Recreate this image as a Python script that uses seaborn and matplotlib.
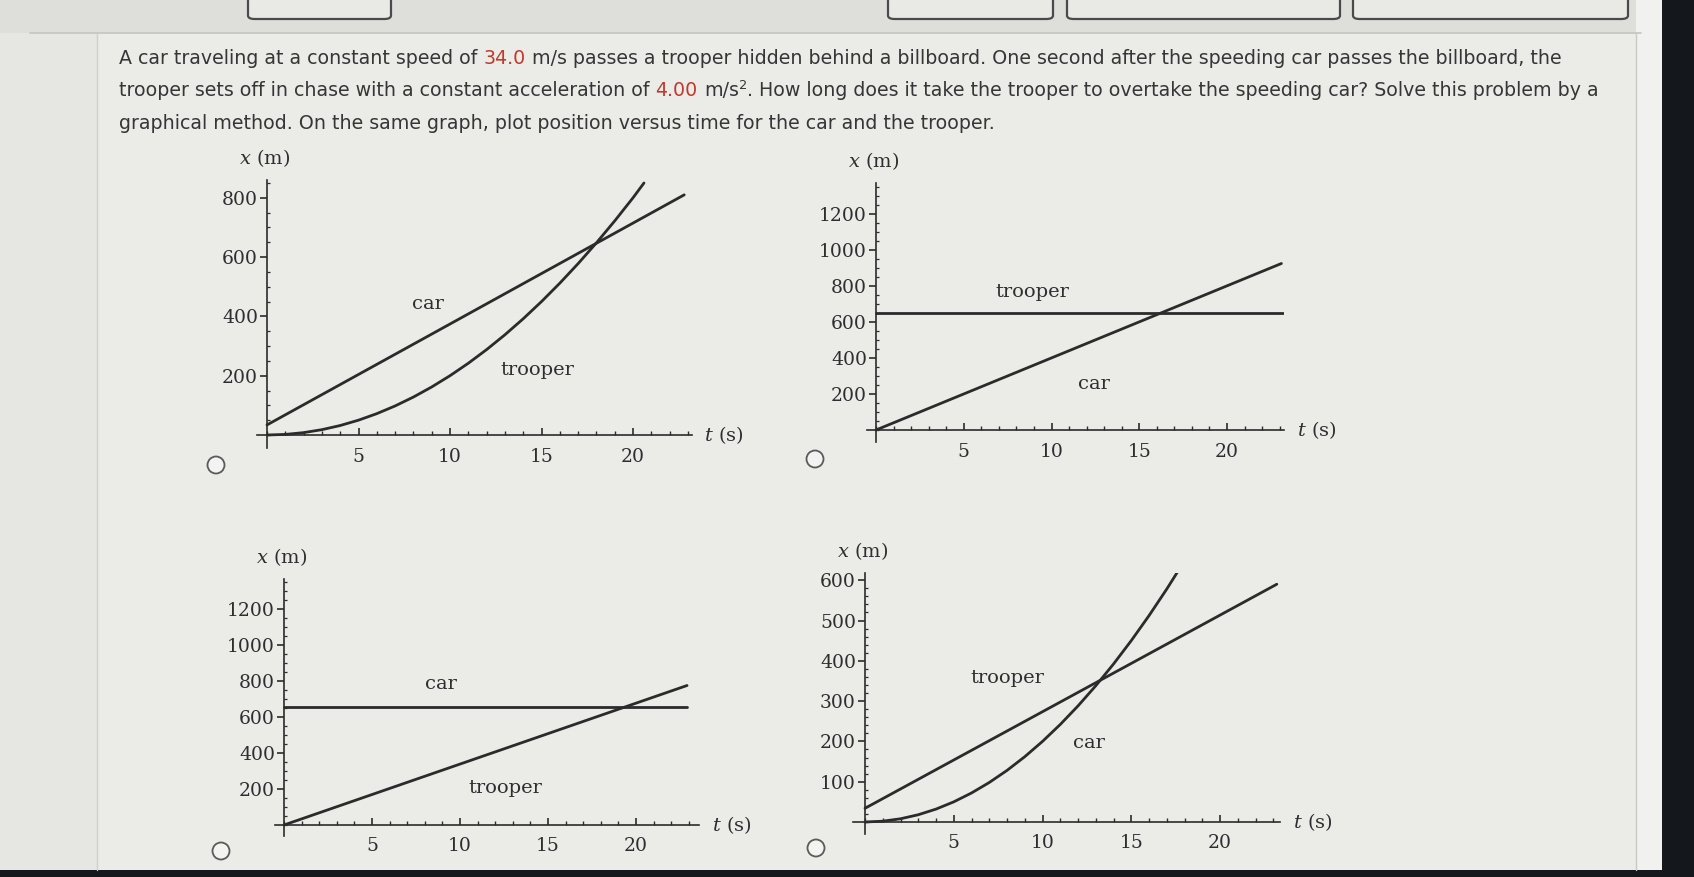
import matplotlib
matplotlib.use('Agg')
import matplotlib.pyplot as plt
from matplotlib.patches import Rectangle, FancyBboxPatch, Ellipse
from matplotlib.ticker import MultipleLocator, FixedLocator
import numpy as np
import seaborn as sns

W, H = 1694, 877

# ---- values ----
# graph A (top left)
car_a_t = [0, 22.8]
car_a_x = [34, 810]
trooper_a_t = [0, 1, 2, 3, 4, 5, 6, 7, 8, 9, 10, 11, 12, 13, 14, 15, 16, 17, 18, 19, 20, 20.6]
trooper_a_x = [0, 2, 8, 18, 32, 50, 72, 98, 128, 162, 200, 242, 288, 338, 392, 450, 512, 578, 648, 722, 800, 850]
yticks_a = [200, 400, 600, 800]

# graph B (top right)
trooper_b_t = [0, 23.2]
trooper_b_x = [650, 650]
car_b_t = [0, 23.1]
car_b_x = [0, 925]
yticks_b = [200, 400, 600, 800, 1000, 1200]

# graph C (bottom left)
car_c_t = [0, 22.9]
car_c_x = [658, 658]
trooper_c_t = [0, 22.9]
trooper_c_x = [0, 775]
yticks_c = [200, 400, 600, 800, 1000, 1200]

# graph D (bottom right)
trooper_d_t = [0, 23.2]
trooper_d_x = [34, 590]
car_d_t = [0, 1, 2, 3, 4, 5, 6, 7, 8, 9, 10, 11, 12, 13, 14, 15, 16, 17, 17.7]
car_d_x = [0, 2, 8, 18, 32, 50, 72, 98, 128, 162, 200, 242, 288, 338, 392, 450, 512, 578, 627]
yticks_d = [100, 200, 300, 400, 500, 600]

xticks_all = [5, 10, 15, 20]

line1 = [("A car traveling at a constant speed of", 'n', False), ("34.0", 'r', True),
         ("m/s passes a trooper hidden behind a billboard. One second after the speeding car passes the billboard, the", 'n', True)]
line2 = [("trooper sets off in chase with a constant acceleration of", 'n', False), ("4.00", 'r', True),
         ("m/s", 'n', True), ("2", 's', False),
         (". How long does it take the trooper to overtake the speeding car? Solve this problem by a", 'n', False)]
line3 = [("graphical method. On the same graph, plot position versus time for the car and the trooper.", 'n', False)]

sns.set_theme(style='white')
plt.rcParams['font.family'] = ['DejaVu Serif']
plt.rcParams['mathtext.fontset'] = 'dejavuserif'

INK = '#2b2b2b'
TXT = '#363636'
RED = '#c0392b'
BG = '#ebebe8'

fig = plt.figure(figsize=(W / 100, H / 100), dpi=100, facecolor=BG)
renderer = fig.canvas.get_renderer()


def fx(x):
    return x / W


def fy(y):
    return 1 - y / H


def add_rect(x0, y0, x1, y1, **kw):
    fig.add_artist(Rectangle((fx(x0), fy(y1)), fx(x1) - fx(x0), fy(y0) - fy(y1),
                             transform=fig.transFigure, **kw))


# page furniture
add_rect(0, 0, W, 33, facecolor='#dededb', edgecolor='none')
add_rect(0, 33, 97, H, facecolor='#e6e6e3', edgecolor='none')
add_rect(1636, 0, 1662, H, facecolor='#f1f1ef', edgecolor='none')
add_rect(1662, 0, W, H, facecolor='#14171b', edgecolor='none')
add_rect(0, 870, W, H, facecolor='#14171b', edgecolor='none')
fig.add_artist(plt.Line2D([fx(30), fx(1641)], [fy(33), fy(33)], color='#c4c4c1', lw=1.2,
                          transform=fig.transFigure))
fig.add_artist(plt.Line2D([fx(97), fx(97)], [fy(33), fy(870)], color='#cfcfcc', lw=1.0,
                          transform=fig.transFigure))
fig.add_artist(plt.Line2D([fx(1636), fx(1636)], [fy(33), fy(870)], color='#c8c8c5', lw=1.0,
                          transform=fig.transFigure))
for bx0, bx1 in [(248, 391), (888, 1053), (1067, 1340), (1353, 1628)]:
    fig.add_artist(FancyBboxPatch((fx(bx0), fy(19)), fx(bx1) - fx(bx0), 0.05,
                                  boxstyle='round,pad=0,rounding_size=0.004',
                                  facecolor='#e9e9e6', edgecolor='#4a4a4a', lw=1.6,
                                  transform=fig.transFigure))


# ---- problem text ----
def text_width(s, size):
    t = fig.text(0, 0, s, fontsize=size, family='DejaVu Sans')
    w = t.get_window_extent(renderer).width
    t.remove()
    return w


def line_width(segs, size):
    sp = text_width("a a", size) - text_width("aa", size)
    w = 0
    for s, kind, gap in segs:
        if gap:
            w += sp
        w += text_width(s, size * (0.68 if kind == 's' else 1))
    return w


fs = 14
fs = fs * 1445 / line_width(line1, fs)


def draw_line(segs, x, base):
    sp = text_width("a a", fs) - text_width("aa", fs)
    for s, kind, gap in segs:
        if gap:
            x += sp
        size = fs * (0.68 if kind == 's' else 1)
        yb = base - (0.42 * fs * 100 / 72 if kind == 's' else 0)
        fig.text(fx(x), fy(yb), s, fontsize=size, family='DejaVu Sans',
                 color=RED if kind == 'r' else TXT, va='baseline', ha='left')
        x += text_width(s, size)


draw_line(line1, 119, 64)
draw_line(line2, 119, 96.5)
draw_line(line3, 119, 129)


# ---- graphs ----
def make_axes(ox, oy, sx, sy, xlim, ylim):
    left = ox + xlim[0] * sx
    right = ox + xlim[1] * sx
    bottom = oy - ylim[0] * sy
    top = oy - ylim[1] * sy
    ax = fig.add_axes([fx(left), fy(bottom), fx(right) - fx(left), fy(top) - fy(bottom)])
    ax.set_xlim(*xlim)
    ax.set_ylim(*ylim)
    ax.set_facecolor('none')
    return ax


def style_axes(ax, yticks, ystep):
    for s in ['top', 'right']:
        ax.spines[s].set_visible(False)
    for s in ['left', 'bottom']:
        ax.spines[s].set_position(('data', 0))
        ax.spines[s].set_color(INK)
        ax.spines[s].set_linewidth(1.2)
    ax.set_xticks(xticks_all)
    ax.set_yticks(yticks)
    ax.set_xticklabels([str(v) for v in xticks_all])
    ax.set_yticklabels([str(v) for v in yticks])
    ax.xaxis.set_minor_locator(MultipleLocator(1))
    ax.yaxis.set_minor_locator(FixedLocator(np.arange(0, ax.get_ylim()[1], ystep)))
    ax.tick_params(bottom=True, left=True, top=False, right=False, which='both')
    ax.tick_params(axis='x', which='major', direction='in', length=5, width=1.2, pad=9,
                   labelsize=13.5, colors=INK, labelcolor='#2e2e2e')
    ax.tick_params(axis='x', which='minor', direction='in', length=2.8, width=1.0, colors=INK)
    ax.tick_params(axis='y', which='major', direction='out', length=5, width=1.2, pad=1.5,
                   labelsize=13.5, colors=INK, labelcolor='#2e2e2e')
    ax.tick_params(axis='y', which='minor', direction='in', length=2.2, width=0.9, colors=INK)
    ax.set_xlabel('')
    ax.set_ylabel('')
    ax.annotate('$x$ (m)', xy=(0, 1), xycoords=ax.get_xaxis_transform(), xytext=(-1.5, 16),
                textcoords='offset points', ha='center', va='center', fontsize=14, color='#2e2e2e')
    ax.annotate('$t$ (s)', xy=(1, 0), xycoords=ax.get_yaxis_transform(), xytext=(9, 0),
                textcoords='offset points', ha='left', va='center', fontsize=14, color='#2e2e2e')


def curve(ax, t, x):
    sns.lineplot(x=t, y=x, ax=ax, color=INK, lw=2.0, sort=False, estimator=None)


def radio(x, y):
    fig.add_artist(Ellipse((fx(x), fy(y)), 17 / W, 17 / H, facecolor='#f3f3f1',
                           edgecolor='#5a5a5a', lw=1.3, transform=fig.transFigure))


# A
ax = make_axes(267, 435, 18.3, 0.2965, (-0.55, 23.2), (-44, 860))
curve(ax, car_a_t, car_a_x)
curve(ax, trooper_a_t, trooper_a_x)
style_axes(ax, yticks_a, 50)
ax.text(8.8, 442, 'car', ha='center', va='center', fontsize=14, color='#2e2e2e')
ax.text(14.8, 219, 'trooper', ha='center', va='center', fontsize=14, color='#2e2e2e')
radio(216, 465)

# B
ax = make_axes(876, 430, 17.55, 0.18, (-0.5, 23.25), (-67, 1372))
curve(ax, trooper_b_t, trooper_b_x)
curve(ax, car_b_t, car_b_x)
style_axes(ax, yticks_b, 50)
ax.text(8.9, 767, 'trooper', ha='center', va='center', fontsize=14, color='#2e2e2e')
ax.text(12.4, 256, 'car', ha='center', va='center', fontsize=14, color='#2e2e2e')
radio(815, 459)

# C
ax = make_axes(284, 825, 17.6, 0.18, (-0.5, 23.6), (-60, 1367))
curve(ax, car_c_t, car_c_x)
curve(ax, trooper_c_t, trooper_c_x)
style_axes(ax, yticks_c, 50)
ax.text(8.9, 783, 'car', ha='center', va='center', fontsize=14, color='#2e2e2e')
ax.text(12.6, 205, 'trooper', ha='center', va='center', fontsize=14, color='#2e2e2e')
radio(221, 851)

# D
ax = make_axes(865, 822, 17.75, 0.403, (-0.68, 23.4), (-30, 618))
curve(ax, trooper_d_t, trooper_d_x)
curve(ax, car_d_t, car_d_x)
style_axes(ax, yticks_d, 20)
ax.text(8.0, 357, 'trooper', ha='center', va='center', fontsize=14, color='#2e2e2e')
ax.text(12.6, 196, 'car', ha='center', va='center', fontsize=14, color='#2e2e2e')
radio(816, 848)

fig.savefig('out.png', dpi=100, facecolor=fig.get_facecolor())
